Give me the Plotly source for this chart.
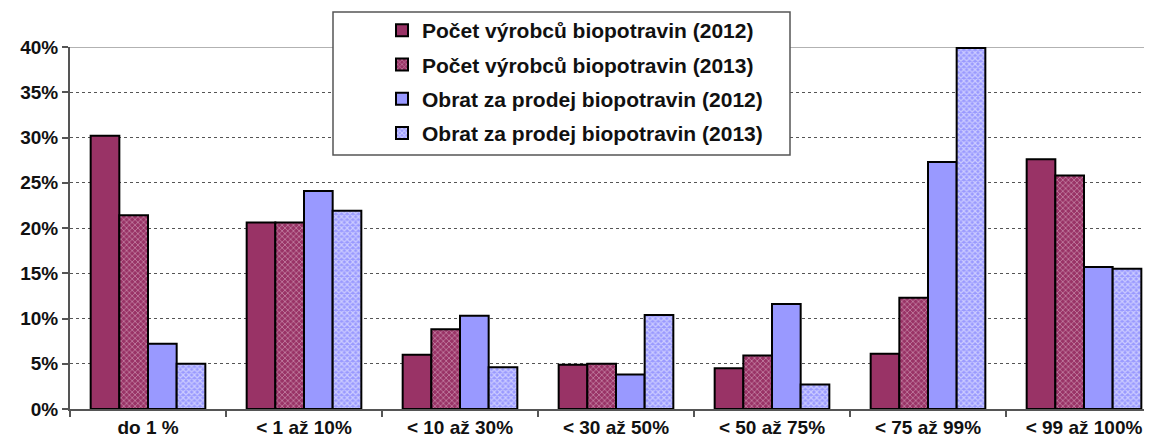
import plotly.graph_objects as go

categories = ["do 1 %", "< 1 až 10%", "< 10 až 30%", "< 30 až 50%", "< 50 až 75%", "< 75 až 99%", "< 99 až 100%"]
pocet_2012 = [30.2, 20.6, 6.0, 4.9, 4.5, 6.1, 27.6]
pocet_2013 = [21.4, 20.6, 8.8, 5.0, 5.9, 12.3, 25.8]
obrat_2012 = [7.2, 24.1, 10.3, 3.8, 11.6, 27.3, 15.7]
obrat_2013 = [5.0, 21.9, 4.6, 10.4, 2.7, 39.9, 15.5]
y_ticks = [0, 5, 10, 15, 20, 25, 30, 35, 40]
y_tick_text = ["0%", "5%", "10%", "15%", "20%", "25%", "30%", "35%", "40%"]

series = [
    ("Počet výrobců biopotravin (2012)", pocet_2012, "#993366", None),
    ("Počet výrobců biopotravin (2013)", pocet_2013, "#993366",
     dict(shape="x", fgcolor="#f2d9e6", bgcolor="#993366", size=4, solidity=0.35)),
    ("Obrat za prodej biopotravin (2012)", obrat_2012, "#9999FF", None),
    ("Obrat za prodej biopotravin (2013)", obrat_2013, "#9999FF",
     dict(shape="x", fgcolor="#ffffff", bgcolor="#9999FF", size=4, solidity=0.5)),
]

# page body has an 8px margin, so the figure sits 8px right/down
OFF = 8
W, H = 1152, 444
PL, PR, PT, PB = 70, 1152, 47, 409  # plot area in page pixels
L, T = PL - OFF, PT - OFF
R = W - (PR - OFF)
B = H - (PB - OFF)
pw, ph = W - L - R, H - T - B

def px(x):
    return (x - OFF - L) / pw

def py(y):
    return (PB - y) / ph

fig = go.Figure()
for i, (name, vals, col, pat) in enumerate(series):
    marker = dict(color=col, line=dict(color="black", width=2))
    if pat:
        marker["pattern"] = pat
    fig.add_trace(go.Bar(x=categories, y=vals, name=name, marker=marker,
                         legendgroup=f"g{i}"))

fig.update_layout(
    width=W, height=H,
    margin=dict(l=L, r=R, t=T, b=B, autoexpand=False),
    paper_bgcolor="white", plot_bgcolor="white",
    barmode="group", bargap=0.265, bargroupgap=0,
    font=dict(family="Liberation Sans, Arial", size=17, color="#111"),
    showlegend=True,
    legend=dict(
        x=px(382), y=py(10), xanchor="left", yanchor="top",
        bgcolor="rgba(0,0,0,0)", borderwidth=0,
        font=dict(family="Liberation Sans, Arial", size=21, color="#111", weight="bold"),
        traceorder="grouped", tracegroupgap=4,
    ),
    shapes=[
        dict(type="rect", xref="paper", yref="paper",
             x0=px(333), x1=px(790), y0=py(155), y1=py(12),
             fillcolor="white", line=dict(color="#555", width=1.5), layer="above"),
        dict(type="line", xref="paper", yref="y", x0=0, x1=1, y0=40, y1=40,
             line=dict(color="#999", width=1.5), layer="below"),
    ],
)

fig.update_xaxes(
    type="category", range=[-0.5, 6.5 - 10 / 156],
    showline=True, linecolor="#555", linewidth=2,
    ticks="outside", tickson="boundaries", ticklen=6, tickcolor="#555", tickwidth=2,
    tickfont=dict(family="Liberation Sans, Arial", size=19, color="#111", weight="bold"),
    showgrid=False,
)
fig.update_yaxes(
    range=[0, 40], tickvals=y_ticks, ticktext=y_tick_text,
    showline=True, linecolor="#555", linewidth=2,
    ticks="outside", ticklen=6, tickcolor="#555", tickwidth=1.5,
    tickfont=dict(family="Liberation Sans, Arial", size=19, color="#111", weight="bold"),
    showgrid=True, gridcolor="#555", gridwidth=1, griddash="dot",
    zeroline=False,
)

fig.write_html("out.html")
